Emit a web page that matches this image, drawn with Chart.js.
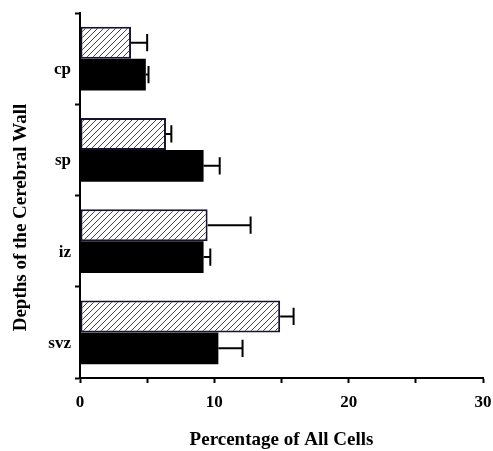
<!DOCTYPE html>
<html>
<head>
<meta charset="utf-8">
<script src="https://cdn.jsdelivr.net/npm/chart.js@4"></script>
<style>
  body { margin: 0; background: #fff; }
  #wrap { width: 493px; height: 451px; }
</style>
</head>
<body>
<div id="wrap"><canvas id="chart"></canvas></div>
<script>
const LAYERS = ['cp', 'sp', 'iz', 'svz'];
const HATCHED = [3.8, 6.4, 9.5, 14.9];
const HATCHED_ERR = [1.2, 0.4, 3.2, 1.0];
const SOLID = [4.9, 9.2, 9.2, 10.3];
const SOLID_ERR = [0.2, 1.2, 0.5, 1.8];
const X_TICKS = [0, 10, 20, 30];

const FAMILY = '"Liberation Serif", "Times New Roman", serif';
const TICK_FONT = { family: FAMILY, weight: 'bold', size: 17 };
const TITLE_FONT = { family: FAMILY, weight: 'bold', size: 19 };

function hatch() {
  const c = document.createElement('canvas');
  c.width = 6; c.height = 6;
  const g = c.getContext('2d');
  g.fillStyle = '#fff';
  g.fillRect(0, 0, 6, 6);
  g.strokeStyle = '#444';
  g.lineWidth = 1;
  g.beginPath();
  g.moveTo(0, 6); g.lineTo(6, 0);
  g.moveTo(-1, 1); g.lineTo(1, -1);
  g.moveTo(5, 7); g.lineTo(7, 5);
  g.stroke();
  return g.createPattern(c, 'repeat');
}

// one-sided error bars at the end of each bar
const errorBars = {
  id: 'errorBars',
  afterDatasetsDraw(chart) {
    const ctx = chart.ctx;
    const xs = chart.scales.x;
    ctx.save();
    ctx.strokeStyle = '#000';
    ctx.lineWidth = 2;
    chart.data.datasets.forEach((ds, i) => {
      chart.getDatasetMeta(i).data.forEach((bar, j) => {
        const x0 = bar.x;
        const x1 = xs.getPixelForValue(ds.data[j] + ds.errors[j]);
        const half = bar.height * 0.27;
        ctx.beginPath();
        ctx.moveTo(x0, bar.y); ctx.lineTo(x1, bar.y);
        ctx.moveTo(x1, bar.y - half); ctx.lineTo(x1, bar.y + half);
        ctx.stroke();
      });
    });
    ctx.restore();
  }
};

// y title sits a bit below the middle of the axis in the original
const yTitle = {
  id: 'yTitle',
  afterDraw(chart) {
    const ctx = chart.ctx;
    const a = chart.chartArea;
    ctx.save();
    ctx.translate(21, (a.top + a.bottom) / 2 + 22);
    ctx.rotate(-Math.PI / 2);
    ctx.font = `bold ${TITLE_FONT.size}px ${FAMILY}`;
    ctx.fillStyle = '#000';
    ctx.textAlign = 'center';
    ctx.textBaseline = 'middle';
    ctx.fillText('Depths of the Cerebral Wall', 0, 0);
    ctx.restore();
  }
};

new Chart(document.getElementById('chart'), {
  type: 'bar',
  data: {
    labels: LAYERS,
    datasets: [
      {
        data: HATCHED,
        errors: HATCHED_ERR,
        backgroundColor: hatch(),
        borderColor: '#14142e',
        borderWidth: 2,
        borderSkipped: false
      },
      {
        data: SOLID,
        errors: SOLID_ERR,
        backgroundColor: '#000',
        borderColor: '#000',
        borderWidth: 0
      }
    ]
  },
  options: {
    indexAxis: 'y',
    responsive: true,
    maintainAspectRatio: false,
    animation: false,
    layout: { padding: { top: 13, right: 10, left: 0, bottom: 0 } },
    plugins: {
      legend: { display: false },
      tooltip: { enabled: false }
    },
    datasets: {
      bar: { categoryPercentage: 0.7, barPercentage: 1.0 }
    },
    scales: {
      x: {
        min: 0,
        max: 30,
        ticks: {
          stepSize: 5,
          color: '#000',
          font: TICK_FONT,
          padding: 9,
          maxRotation: 0,
          callback: v => X_TICKS.includes(v) ? v : ''
        },
        grid: { drawOnChartArea: false, tickLength: 5, color: '#000', tickWidth: 2 },
        border: { color: '#000', width: 2 },
        title: { display: true, text: 'Percentage of All Cells', color: '#000', font: TITLE_FONT, padding: { top: 0, bottom: 0 } },
        afterFit: s => { s.height = 73; s.paddingLeft = 0; s.paddingRight = 0; }
      },
      y: {
        ticks: { color: '#000', font: TICK_FONT, padding: 4, labelOffset: 11 },
        grid: { drawOnChartArea: false, tickLength: 5, color: '#000', tickWidth: 2, offset: true },
        border: { color: '#000', width: 2 },
        afterFit: s => { s.width = 80; s.paddingTop = 0; s.paddingBottom = 0; }
      }
    }
  },
  plugins: [errorBars, yTitle]
});
</script>
</body>
</html>
